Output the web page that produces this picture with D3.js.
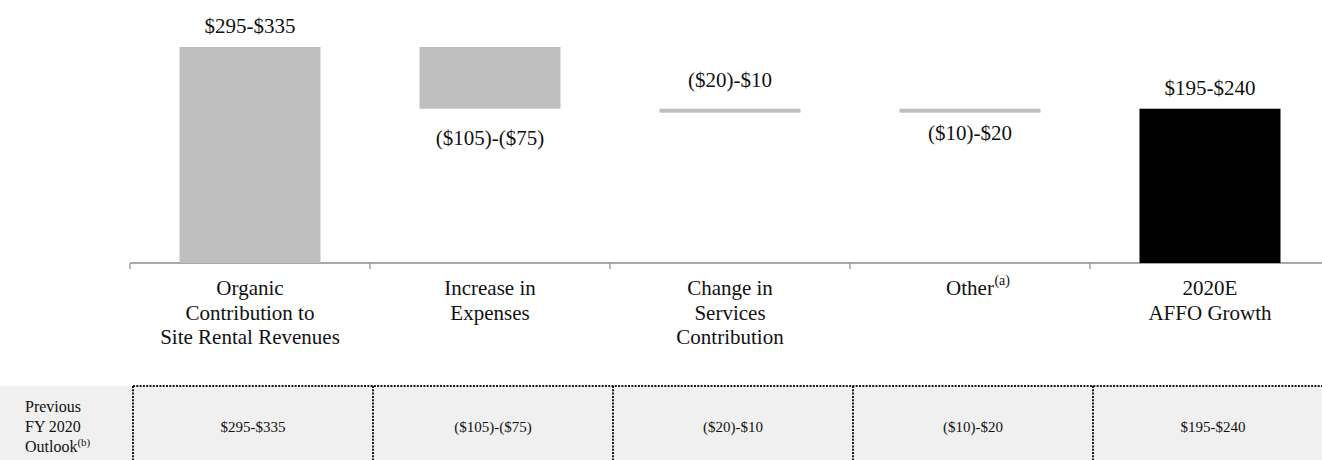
<!DOCTYPE html>
<html>
<head>
<meta charset="utf-8">
<script src="https://cdn.jsdelivr.net/npm/d3@7"></script>
<style>
  body { margin: 0; background: #fff; }
  svg { display: block; font-family: "Liberation Serif", "Times New Roman", serif; }
</style>
</head>
<body>
<svg width="1322" height="460"></svg>
<script>
// chart data
var categories = [
    ["Organic", "Contribution to", "Site Rental Revenues"],
    ["Increase in", "Expenses"],
    ["Change in", "Services", "Contribution"],
    ["Other"],
    ["2020E", "AFFO Growth"]
];
var footnotes = ["", "", "", "(a)", ""];
var rangeLabels = ["$295-$335", "($105)-($75)", "($20)-$10", "($10)-$20", "$195-$240"];
// deltas as drawn (waterfall steps), last bar is the total
var deltas = [315, -90, 0, 0];
var tableLabel = ["Previous", "FY 2020", "Outlook"];
var tableValues = ["$295-$335", "($105)-($75)", "($20)-$10", "($10)-$20", "$195-$240"];

window.onload = function(){ drawChart() }
function drawChart() {
    var svg = d3.select("svg");

    // build waterfall segments
    var segs = [], run = 0;
    deltas.forEach(function(d, i) {
        segs.push({i: i, start: run, end: run + d, total: false});
        run += d;
    });
    segs.push({i: deltas.length, start: 0, end: run, total: true});

    var x = d3.scaleBand()
        .domain(d3.range(categories.length))
        .range([130, 1330])
        .paddingInner(0.4125)
        .paddingOuter(0.4125 / 2);

    var y = d3.scaleLinear()
        .domain([0, 315])
        .range([263, 47]);

    var half = (x.step() - x.bandwidth()) / 2;

    // axis line + ticks at band boundaries
    var axis = svg.append("g").attr("class", "axis");
    axis.append("line")
        .attr("x1", x(0) - half).attr("x2", 1322)
        .attr("y1", y(0)).attr("y2", y(0))
        .attr("stroke", "#8c8c8c").attr("stroke-width", 1.4);
    axis.selectAll(".tick")
        .data(d3.range(categories.length))
        .enter().append("line")
        .attr("x1", function(d) { return x(d) - half; })
        .attr("x2", function(d) { return x(d) - half; })
        .attr("y1", y(0)).attr("y2", y(0) + 6)
        .attr("stroke", "#8c8c8c").attr("stroke-width", 1.2);

    // bars
    var thin = 4;
    svg.append("g").selectAll("rect")
        .data(segs)
        .enter().append("rect")
        .attr("x", function(d) { return x(d.i); })
        .attr("width", x.bandwidth())
        .attr("y", function(d) { return y(Math.max(d.start, d.end)); })
        .attr("height", function(d) {
            var h = Math.abs(y(d.start) - y(d.end));
            return h < 1 ? thin : h;
        })
        .attr("fill", function(d) { return d.total ? "#000" : "#bfbfbf"; });

    // range labels
    svg.append("g").selectAll("text")
        .data(segs)
        .enter().append("text")
        .attr("x", function(d) { return x(d.i) + x.bandwidth() / 2; })
        .attr("y", function(d) {
            var top = y(Math.max(d.start, d.end)),
                bot = y(Math.min(d.start, d.end));
            var flat = d.start === d.end;
            var above = flat ? (d.i % 2 === 0) : d.end >= d.start;
            if (flat) return above ? top - 22 : top + thin + 27;
            return above ? top - 14 : bot + 36;
        })
        .attr("text-anchor", "middle")
        .style("font-size", "21px")
        .attr("fill", "#111")
        .text(function(d) { return rangeLabels[d.i]; });

    // category labels
    var cat = svg.append("g").selectAll("text")
        .data(categories)
        .enter().append("text")
        .attr("text-anchor", "middle")
        .attr("x", function(d, i) { return x(i) + x.bandwidth() / 2; })
        .attr("y", 295)
        .style("font-size", "21px")
        .attr("fill", "#111");
    cat.each(function(lines, i) {
        var t = d3.select(this);
        lines.forEach(function(l, k) {
            t.append("tspan")
                .attr("x", x(i) + x.bandwidth() / 2)
                .attr("dy", k === 0 ? 0 : 24.5)
                .text(l);
        });
        if (footnotes[i]) {
            var w = this.getComputedTextLength();
            svg.append("text")
                .attr("x", x(i) + x.bandwidth() / 2 + w / 2 + 0.5)
                .attr("y", 285)
                .style("font-size", "14px")
                .attr("fill", "#111")
                .text(footnotes[i]);
        }
    });

    // previous outlook table
    var tTop = 386;
    var table = svg.append("g");
    table.append("rect")
        .attr("x", 0).attr("y", tTop)
        .attr("width", 1322).attr("height", 460 - tTop)
        .attr("fill", "#f0f0f0");
    table.append("line")
        .attr("x1", x(0) - half + 3).attr("x2", 1322)
        .attr("y1", tTop).attr("y2", tTop)
        .attr("stroke", "#1a1a1a").attr("stroke-width", 2)
        .attr("stroke-dasharray", "2,1.3");
    table.selectAll(".div")
        .data(d3.range(categories.length))
        .enter().append("line")
        .attr("x1", function(d) { return x(d) - half + 3; })
        .attr("x2", function(d) { return x(d) - half + 3; })
        .attr("y1", tTop).attr("y2", 460)
        .attr("stroke", "#1a1a1a").attr("stroke-width", 2)
        .attr("stroke-dasharray", "2,1.3");

    var lab = table.append("text")
        .attr("x", 25).attr("y", 412)
        .style("font-size", "16px")
        .attr("fill", "#111");
    tableLabel.forEach(function(l, k) {
        lab.append("tspan").attr("x", 25).attr("dy", k === 0 ? 0 : 20).text(l);
    });
    lab.append("tspan").attr("dy", -6).style("font-size", "11px").text("(b)");

    table.selectAll(".val")
        .data(tableValues)
        .enter().append("text")
        .attr("x", function(d, i) { return x(i) + x.bandwidth() / 2 + 3; })
        .attr("y", 432)
        .attr("text-anchor", "middle")
        .style("font-size", "15px")
        .attr("fill", "#111")
        .text(function(d) { return d; });
}
</script>
</body>
</html>
